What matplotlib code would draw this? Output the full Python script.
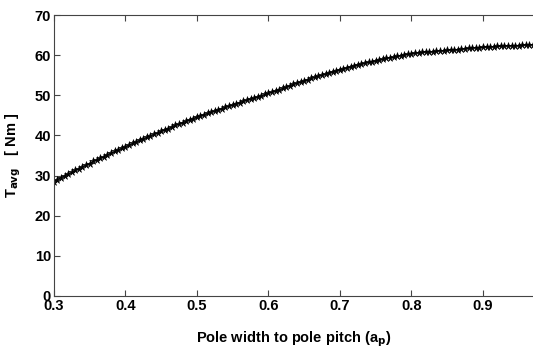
import numpy as np
import matplotlib
matplotlib.use('Agg')
import matplotlib.pyplot as plt

# Pole width to pole pitch ratio (sampled every 0.005)
ratio = np.round(np.arange(0.300, 0.9701, 0.005), 3)

# Average torque [Nm]
t_avg = [
    28.5, 29.0, 29.5, 29.9, 30.4, 30.8, 31.3, 31.7, 32.2, 32.6,
    33.0, 33.5, 33.9, 34.3, 34.7, 35.2, 35.6, 36.0, 36.4, 36.8,
    37.2, 37.6, 38.0, 38.4, 38.8, 39.2, 39.5, 39.9, 40.3, 40.6,
    41.0, 41.4, 41.7, 42.1, 42.5, 42.8, 43.2, 43.5, 43.9, 44.2,
    44.6, 44.9, 45.2, 45.5, 45.8, 46.1, 46.4, 46.7, 47.0, 47.3,
    47.6, 47.9, 48.2, 48.5, 48.8, 49.1, 49.3, 49.6, 49.9, 50.2,
    50.5, 50.8, 51.1, 51.4, 51.7, 52.0, 52.4, 52.7, 53.0, 53.3,
    53.6, 53.9, 54.2, 54.5, 54.8, 55.0, 55.3, 55.6, 55.9, 56.1,
    56.4, 56.6, 56.9, 57.1, 57.4, 57.6, 57.8, 58.0, 58.2, 58.4,
    58.6, 58.8, 59.0, 59.2, 59.4, 59.5, 59.7, 59.9, 60.1, 60.2,
    60.4, 60.5, 60.6, 60.7, 60.8, 60.8, 60.9, 61.0, 61.1, 61.1,
    61.2, 61.3, 61.4, 61.4, 61.5, 61.6, 61.7, 61.8, 61.9, 61.9,
    62.0, 62.0, 62.1, 62.1, 62.2, 62.2, 62.3, 62.3, 62.4, 62.4,
    62.4, 62.5, 62.5, 62.6, 62.6,
]

x_ticks = [0.3, 0.4, 0.5, 0.6, 0.7, 0.8, 0.9]
y_ticks = [0, 10, 20, 30, 40, 50, 60, 70]

plt.rcParams['font.family'] = ['Liberation Sans', 'DejaVu Sans']
plt.rcParams['font.weight'] = 'bold'

fig = plt.figure(figsize=(5.33, 3.49), dpi=100)
ax = fig.add_axes([0.101, 0.152, 0.899, 0.805])

ax.plot(ratio, t_avg, color='black', linewidth=0.8, marker='*',
        markersize=5.5, markeredgewidth=0.4)

ax.set_xlim(0.3, 0.97)
ax.set_ylim(0, 70)
ax.set_xticks(x_ticks)
ax.set_yticks(y_ticks)
ax.set_xticklabels([str(v) for v in x_ticks])
ax.set_yticklabels([str(v) for v in y_ticks])

ax.tick_params(direction='in', length=4, width=0.8, color='#444444',
               labelsize=10.5, pad=2, top=True)
for side in ['left', 'bottom', 'top']:
    ax.spines[side].set_color('#444444')
    ax.spines[side].set_linewidth(0.8)
ax.spines['right'].set_visible(False)

ax.set_xlabel('Pole width to pole pitch (a$_\\mathbf{p}$)', fontsize=10.5,
              fontweight='bold', labelpad=12)
ax.set_ylabel('T$_\\mathbf{avg}$   [ Nm ]', fontsize=10.5, fontweight='bold',
              labelpad=8)

fig.savefig('out.png', dpi=100)
